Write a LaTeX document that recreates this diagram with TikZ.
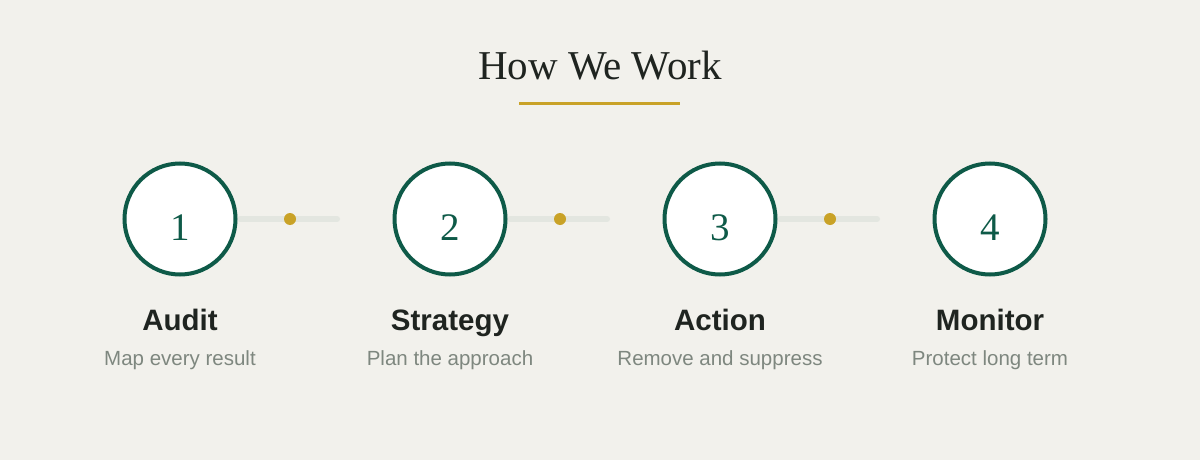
\documentclass[tikz,border=0pt]{standalone}
\usepackage{fontspec}
\setmainfont{Liberation Serif}
\setsansfont{Liberation Sans}
\definecolor{bg}{HTML}{F2F1EC}
\definecolor{green}{HTML}{0E5A48}
\definecolor{gold}{HTML}{C9A227}
\definecolor{track}{HTML}{E3E6E0}
\definecolor{ink}{HTML}{1F2420}
\definecolor{muted}{HTML}{7E877F}
\begin{document}
\begin{tikzpicture}[x=1pt,y=-1pt,
  stepcircle/.style={circle,draw=green,line width=4pt,fill=white,minimum size=111pt,inner sep=0pt},
  stepnum/.style={text=green,font=\fontsize{39}{39}\selectfont,inner sep=0pt},
  steptitle/.style={font=\sffamily\bfseries\fontsize{29.5}{29.5}\selectfont,text=ink,anchor=base},
  stepsub/.style={font=\sffamily\fontsize{20.5}{20.5}\selectfont,text=muted,anchor=base},
  trackline/.style={draw=track,line width=6pt,line cap=round},
  golddot/.style={circle,fill=gold,minimum size=12pt,inner sep=0pt}]
\fill[bg] (0,0) rectangle (1200,460);
\useasboundingbox (0,0) rectangle (1200,460);
\node[font=\fontsize{41}{41}\selectfont,text=ink,anchor=base] (title) at (600,80) {How We Work};
\coordinate (ul1) at (519,103);
\coordinate (ul2) at (680,103);
\draw[gold,line width=3pt] (ul1) -- (ul2);
% tracks
\foreach \i/\x in {1/180,2/450,3/720}{
  \coordinate (ta\i) at (\x+60,219);
  \coordinate (tb\i) at (\x+157,219);
  \draw[trackline] (ta\i) -- (tb\i);
  \node[golddot] (dot\i) at (\x+110,219) {};
}
\foreach \i/\x/\t/\s in {1/180/Audit/Map every result,2/450/Strategy/Plan the approach,3/720/Action/Remove and suppress,4/990/Monitor/Protect long term}{
  \node[stepcircle] (c\i) at (\x,219) {};
  \node[stepnum,anchor=base] (n\i) at (\x,240) {\i};
  \node[steptitle] (t\i) at (\x,330) {\t};
  \node[stepsub] (s\i) at (\x,365) {\s};
}
\end{tikzpicture}
\end{document}
